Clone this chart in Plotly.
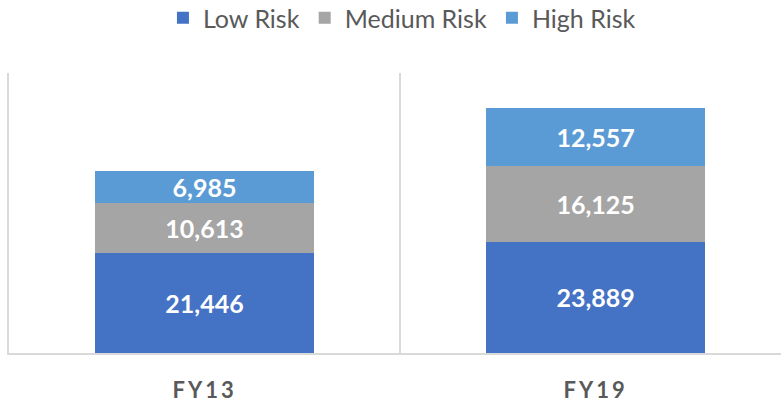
import plotly.graph_objects as go

categories = ["FY13", "FY19"]
low_risk = [21446, 23889]
medium_risk = [10613, 16125]
high_risk = [6985, 12557]

series = [
    ("Low Risk", low_risk, "#4472C4"),
    ("Medium Risk", medium_risk, "#A5A5A5"),
    ("High Risk", high_risk, "#5B9BD5"),
]

fig = go.Figure()
for name, vals, color in series:
    fig.add_trace(go.Bar(
        x=categories, y=vals, name=name,
        marker=dict(color=color, line=dict(width=0)),
        texttemplate="%{y:,}",
        textposition="inside",
        insidetextanchor="middle",
        constraintext="none",
        textangle=0,
        textfont=dict(family="Lato", size=25, color="white", weight="bold"),
        hoverinfo="skip",
    ))

fig.update_layout(
    barmode="stack",
    bargap=0.44,
    width=781, height=404,
    margin=dict(l=9, r=0, t=73, b=51, pad=0, autoexpand=False),
    paper_bgcolor="white",
    plot_bgcolor="white",
    showlegend=True,
    legend=dict(
        orientation="h", x=0.509, xanchor="center",
        y=1 - 18 / 404, yanchor="middle", yref="container",
        font=dict(family="Lato", size=25, color="#595959"),
        traceorder="normal",
    ),
    font=dict(family="Lato", color="#595959"),
)

fig.update_xaxes(
    type="category",
    range=[-0.5, 1.474],
    tickson="boundaries",
    showgrid=True, gridcolor="#D9D9D9", gridwidth=1.5,
    showline=True, linecolor="#D9D9D9", linewidth=2,
    ticks="", ticklabelstandoff=17, automargin=False,
    tickfont=dict(family="Lato", size=22, color="#595959", weight="bold"),
    fixedrange=True,
)
fig.update_yaxes(
    range=[0, 60000],
    showgrid=False, zeroline=False,
    showline=True, linecolor="#D9D9D9", linewidth=1.5,
    showticklabels=False, ticks="", automargin=False,
    fixedrange=True,
)

post = """
var s=document.createElement('style');
s.innerHTML='html,body{margin:0;padding:0;overflow:hidden;} .xtick text{letter-spacing:3px;}';
document.head.appendChild(s);
"""
fig.write_html("out.html", post_script=post, config={"displayModeBar": False})
